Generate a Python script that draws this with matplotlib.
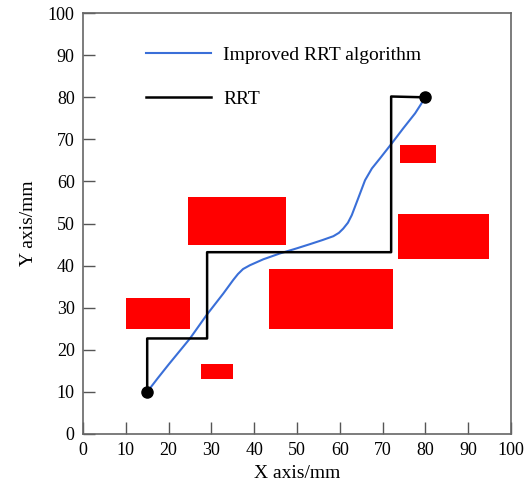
import matplotlib.pyplot as plt

plt.rcParams['font.family'] = ['Liberation Serif', 'DejaVu Serif']

# Obstacles (left x, bottom y, width, height)
obs_x = [10, 24.6, 43.5, 73.5, 27.6, 74]
obs_y = [24.9, 44.8, 24.9, 41.6, 13, 64.4]
obs_w = [15, 22.9, 29, 21.4, 7.4, 8.5]
obs_h = [7.5, 11.6, 14.4, 10.7, 3.7, 4.2]

# RRT path
rrt_x = [15, 15, 29, 29, 72, 72, 80]
rrt_y = [10, 22.7, 22.7, 43.2, 43.2, 80.2, 80]

# Improved RRT path
imp_x = [15, 17.5, 20, 22.5, 25, 28.9, 32.8, 35.1, 36.2, 37.4, 39.0, 42.1, 46.0, 49.9, 53.0,
         56.0, 58.5, 59.8, 60.8, 61.9, 62.8, 64.3, 65.9, 67.5, 69.4, 72.1, 74.8, 77.6, 80]
imp_y = [10, 13.3, 16.5, 19.6, 22.7, 28.3, 33.4, 36.6, 38.0, 39.2, 40.1, 41.5, 42.9, 44.1, 45.1,
         46.1, 47.0, 47.8, 48.8, 50.2, 52.0, 56.0, 60.3, 63.1, 65.5, 69.0, 72.6, 76.2, 80]

start = (15, 10)
goal = (80, 80)

fig = plt.figure(figsize=(5.32, 4.88), dpi=100)
ax = fig.add_axes([0.156, 0.1107, 0.8045, 0.8623])

ax.bar(obs_x, obs_h, width=obs_w, bottom=obs_y, align='edge', color='#ff0000', linewidth=0)
ax.plot(imp_x, imp_y, color='#3a6fd8', lw=1.5, label='Improved RRT algorithm')
ax.plot(rrt_x, rrt_y, color='black', lw=1.8, label='RRT')
ax.plot([start[0], goal[0]], [start[1], goal[1]], 'o', color='black', ms=8, zorder=5)

ax.set_xlim(0, 100)
ax.set_ylim(0, 100)
ax.set_xticks(range(0, 101, 10))
ax.set_yticks(range(0, 101, 10))
ax.tick_params(direction='in', length=8.5, width=1, color='#555555', labelsize=13, pad=6)
for s in ax.spines.values():
    s.set_color('#666666')
    s.set_linewidth(1.2)

ax.set_xlabel('X axis/mm', fontsize=14, labelpad=4)
ax.set_ylabel('Y axis/mm', fontsize=14, labelpad=8)

ax.legend(loc='upper left', bbox_to_anchor=(0.107, 0.962), frameon=False, fontsize=14,
          handlelength=3.35, handletextpad=0.6, labelspacing=1.35)

plt.savefig('out.png', dpi=100)
